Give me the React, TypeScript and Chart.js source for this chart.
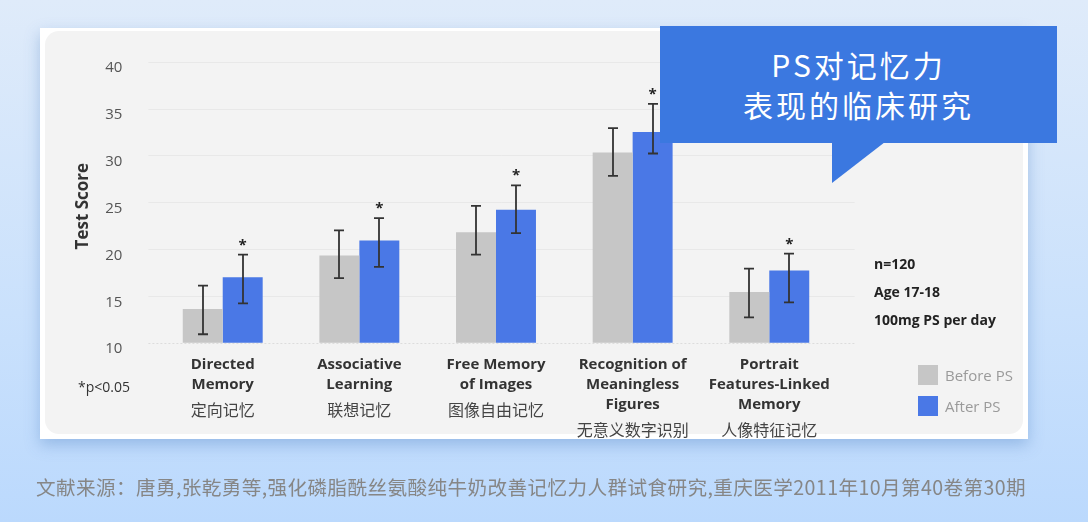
import { useEffect, useRef } from "react"
import { Chart, registerables } from "chart.js"

Chart.register(...registerables)

// chart data
const categoryEn = [
  ["Directed", "Memory"],
  ["Associative", "Learning"],
  ["Free Memory", "of Images"],
  ["Recognition of", "Meaningless", "Figures"],
  ["Portrait", "Features-Linked", "Memory"],
]
const categoryZh = ["定向记忆", "联想记忆", "图像自由记忆", "无意义数字识别", "人像特征记忆"]

const beforePS = [13.6, 19.3, 21.8, 30.3, 15.4]
const afterPS = [17.0, 20.9, 24.2, 32.5, 17.7]

// error bar ends (low, high)
const beforeLow = [10.9, 16.9, 19.4, 27.8, 12.7]
const beforeHigh = [16.1, 22.0, 24.6, 32.9, 17.9]
const afterLow = [14.2, 18.1, 21.7, 30.2, 14.3]
const afterHigh = [19.4, 23.3, 26.8, 35.5, 19.5]
const significant = [true, true, true, true, true]

const yMin = 10
const yMax = 40
const yStep = 5

const notes = ["n=120", "Age 17-18", "100mg PS per day"]

const GRAY = "#c6c6c6"
const BLUE = "#4a78e6"
const LATIN = "'Open Sans', 'Noto Sans', sans-serif"
const CJK = "'Noto Sans CJK SC', 'Noto Sans', sans-serif"

const decorations = {
  id: "decorations",
  beforeDatasetsDraw(chart: any) {
    const { ctx, chartArea } = chart
    const y = chart.scales.y
    ctx.save()
    y.ticks.forEach((t: any) => {
      const py = Math.round(y.getPixelForValue(t.value)) + 0.5
      ctx.beginPath()
      ctx.strokeStyle = t.value === yMin ? "#dcdcdc" : "#e8e8e8"
      ctx.lineWidth = 1
      ctx.setLineDash(t.value === yMin ? [2, 2] : [])
      ctx.moveTo(chartArea.left - 6, py)
      ctx.lineTo(chartArea.right + 17, py)
      ctx.stroke()
    })
    ctx.setLineDash([])
    // y tick labels
    ctx.fillStyle = "#555"
    ctx.font = `15px ${LATIN}`
    ctx.textAlign = "right"
    ctx.textBaseline = "middle"
    y.ticks.forEach((t: any) => {
      ctx.fillText(String(t.value), chartArea.left - 32, y.getPixelForValue(t.value) + 6.5)
    })
    // axis title
    ctx.save()
    ctx.translate(chartArea.left - 71, (chartArea.top + chartArea.bottom) / 2 + 4)
    ctx.rotate(-Math.PI / 2)
    ctx.textAlign = "center"
    ctx.fillStyle = "#333"
    ctx.font = `bold 17px ${LATIN}`
    ctx.fillText("Test Score", 0, 0)
    ctx.restore()
    ctx.restore()
  },
  afterDatasetsDraw(chart: any) {
    const { ctx, chartArea } = chart
    const y = chart.scales.y
    const x = chart.scales.x
    const sets = [
      { meta: chart.getDatasetMeta(0), low: beforeLow, high: beforeHigh },
      { meta: chart.getDatasetMeta(1), low: afterLow, high: afterHigh },
    ]
    ctx.save()
    ctx.strokeStyle = "#333"
    ctx.lineWidth = 1.8
    sets.forEach((s) => {
      s.meta.data.forEach((bar: any, i: number) => {
        const cx = Math.round(bar.x)
        const top = y.getPixelForValue(s.high[i])
        const bot = y.getPixelForValue(s.low[i])
        ctx.beginPath()
        ctx.moveTo(cx, top)
        ctx.lineTo(cx, bot)
        ctx.moveTo(cx - 5, top)
        ctx.lineTo(cx + 5, top)
        ctx.moveTo(cx - 5, bot)
        ctx.lineTo(cx + 5, bot)
        ctx.stroke()
      })
    })
    // significance stars
    ctx.fillStyle = "#222"
    ctx.font = `bold 15px ${LATIN}`
    ctx.textAlign = "center"
    ctx.textBaseline = "alphabetic"
    sets[1].meta.data.forEach((bar: any, i: number) => {
      if (!significant[i]) return
      ctx.fillText("*", bar.x, y.getPixelForValue(afterHigh[i]) - 5)
    })
    // category labels
    ctx.fillStyle = "#333"
    ctx.textBaseline = "middle"
    categoryEn.forEach((lines, i) => {
      const cx = x.getPixelForValue(i)
      let py = chartArea.bottom + 22
      ctx.font = `bold 15px ${LATIN}`
      lines.forEach((ln, k) => {
        if (k > 0) py += 20
        ctx.fillText(ln, cx, py)
      })
      ctx.font = `16px ${CJK}`
      ctx.fillStyle = "#444"
      ctx.fillText(categoryZh[i], cx, py + 25)
      ctx.fillStyle = "#333"
    })
    ctx.restore()
  },
}

function BarChart() {
  const chartRef = useRef<HTMLCanvasElement>(null)
  const chartInstance = useRef<Chart | null>(null)

  useEffect(() => {
    if (!chartRef.current) return
    if (chartInstance.current) chartInstance.current.destroy()
    const ctx = chartRef.current.getContext("2d")
    if (!ctx) return

    chartInstance.current = new Chart(ctx, {
      type: "bar",
      data: {
        labels: categoryZh,
        datasets: [
          { label: "Before PS", data: beforePS, backgroundColor: GRAY, borderWidth: 0 },
          { label: "After PS", data: afterPS, backgroundColor: BLUE, borderWidth: 0 },
        ],
      },
      options: {
        animation: false,
        responsive: false,
        events: [],
        layout: { padding: { left: 154.4, right: 250.4, top: 61.7, bottom: 179.3 } },
        plugins: { legend: { display: false }, tooltip: { enabled: false } },
        datasets: { bar: { categoryPercentage: 0.585, barPercentage: 1 } },
        scales: {
          x: { display: false, offset: true },
          y: { display: false, min: yMin, max: yMax, ticks: { stepSize: yStep } },
        },
      },
      plugins: [decorations],
    })

    return () => {
      if (chartInstance.current) {
        chartInstance.current.destroy()
        chartInstance.current = null
      }
    }
  }, [])

  return (
    <canvas
      ref={chartRef}
      width={1088}
      height={522}
      style={{ position: "absolute", left: 0, top: 0, width: 1088, height: 522 }}
    />
  )
}

export default function App() {
  return (
    <div
      style={{
        position: "fixed",
        left: 0,
        top: 0,
        width: 1088,
        height: 522,
        overflow: "hidden",
        background: "linear-gradient(180deg, #dfebfa 0%, #cae1fc 60%, #bbd9fd 100%)",
        fontFamily: LATIN,
      }}
    >
      {/* card */}
      <div
        style={{
          position: "absolute",
          left: 40,
          top: 28,
          width: 988,
          height: 411,
          background: "#ffffff",
          boxShadow: "0 6px 14px rgba(70,120,190,0.35)",
        }}
      >
        <div
          style={{
            position: "absolute",
            left: 5,
            top: 3,
            right: 5,
            bottom: 5,
            background: "#f3f3f3",
            borderRadius: 14,
          }}
        />
      </div>

      <BarChart />

      {/* notes */}
      <div style={{ position: "absolute", left: 874, top: 250, fontWeight: 700, fontSize: 14, color: "#222", lineHeight: "28px" }}>
        {notes.map((n) => (
          <div key={n}>{n}</div>
        ))}
      </div>
      <div style={{ position: "absolute", left: 78, top: 377, fontSize: 14, color: "#333", lineHeight: "20px" }}>*p&lt;0.05</div>

      {/* legend */}
      <div style={{ position: "absolute", left: 918, top: 365, fontSize: 15, color: "#9a9a9a", lineHeight: "20px" }}>
        {[
          { label: "Before PS", color: GRAY },
          { label: "After PS", color: BLUE },
        ].map((l, i) => (
          <div key={l.label} style={{ display: "flex", alignItems: "center", marginTop: i ? 11 : 0 }}>
            <span style={{ width: 20, height: 20, background: l.color, display: "inline-block", marginRight: 7 }} />
            <span>{l.label}</span>
          </div>
        ))}
      </div>

      {/* callout */}
      <div
        style={{
          position: "absolute",
          left: 660,
          top: 26,
          width: 397,
          height: 117,
          background: "#3b78e0",
          color: "#fff",
          fontFamily: CJK,
          fontSize: 30,
          letterSpacing: 3,
          lineHeight: "40px",
          textAlign: "center",
          paddingTop: 18,
          boxSizing: "border-box",
        }}
      >
        <div>PS对记忆力</div>
        <div>表现的临床研究</div>
      </div>
      <div
        style={{
          position: "absolute",
          left: 832,
          top: 142,
          width: 0,
          height: 0,
          borderTop: "41px solid #3b78e0",
          borderRight: "53px solid transparent",
        }}
      />

      {/* source */}
      <div
        style={{
          position: "absolute",
          left: 36,
          top: 474,
          fontFamily: CJK,
          fontSize: 19.6,
          letterSpacing: 0.4,
          color: "#868686",
          whiteSpace: "nowrap",
          lineHeight: "26px",
        }}
      >
        文献来源：唐勇,张乾勇等,强化磷脂酰丝氨酸纯牛奶改善记忆力人群试食研究,重庆医学2011年10月第40卷第30期
      </div>
    </div>
  )
}
